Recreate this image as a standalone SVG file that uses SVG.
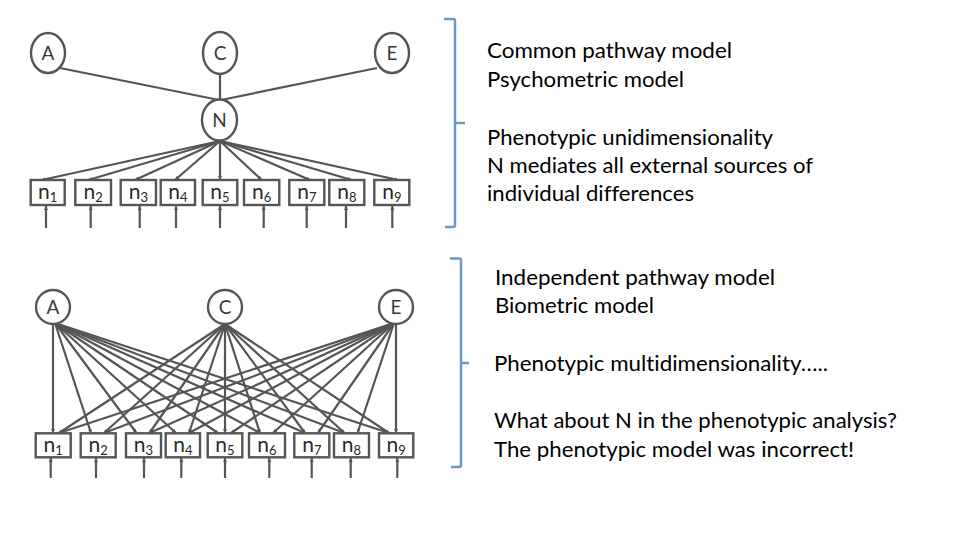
<svg xmlns="http://www.w3.org/2000/svg" width="960" height="540" viewBox="0 0 960 540">
<defs>
<marker id="ah" markerUnits="userSpaceOnUse" markerWidth="5" markerHeight="5" refX="4" refY="2" orient="auto">
<path d="M0,0 L4,2 L0,4 z" fill="#555"/>
</marker>
<style>
.nd{fill:#fff;stroke:#555;stroke-width:2.4}
.bx{fill:#fff;stroke:#555;stroke-width:2.4}
.ln{stroke:#555;stroke-width:2.2;fill:none}
.ar{stroke:#555;stroke-width:2.2;fill:none;marker-end:url(#ah)}
.lb{font-family:Lato,"Open Sans","Liberation Sans",sans-serif;font-size:19px;fill:#3a3a3a;text-anchor:middle}
.nl{font-family:Lato,"Open Sans","Liberation Sans",sans-serif;font-size:21px;fill:#2a2a2a;text-anchor:middle}
.sb{font-size:13px}
.tx{font-family:Lato,"Open Sans","Liberation Sans",sans-serif;font-size:22px;fill:#000;font-variant-ligatures:none}
.br{stroke:#6a98c8;stroke-width:2.5;fill:none}
</style>
</defs>
<rect width="960" height="540" fill="#fff"/>

<g id="connectors">
<!-- top model -->
<line class="ln" x1="60" y1="68" x2="219" y2="100"/>
<line class="ln" x1="377" y1="68" x2="221" y2="100"/>
<line class="ln" x1="220" y1="74" x2="220" y2="100"/>
<line class="ar" x1="220" y1="141" x2="41.7" y2="180"/>
<line class="ar" x1="220" y1="141" x2="88.3" y2="180"/>
<line class="ar" x1="220" y1="141" x2="135" y2="180"/>
<line class="ar" x1="220" y1="141" x2="175" y2="180"/>
<line class="ar" x1="220" y1="141" x2="220" y2="180"/>
<line class="ar" x1="220" y1="141" x2="261.7" y2="180"/>
<line class="ar" x1="220" y1="141" x2="310" y2="180"/>
<line class="ar" x1="220" y1="141" x2="351.7" y2="180"/>
<line class="ar" x1="220" y1="141" x2="398.3" y2="180"/>
<line class="ar" x1="46" y1="228" x2="46" y2="206"/>
<line class="ar" x1="90.7" y1="228" x2="90.7" y2="206"/>
<line class="ar" x1="139.7" y1="228" x2="139.7" y2="206"/>
<line class="ar" x1="176" y1="228" x2="176" y2="206"/>
<line class="ar" x1="220" y1="228" x2="220" y2="206"/>
<line class="ar" x1="263.7" y1="228" x2="263.7" y2="206"/>
<line class="ar" x1="306.7" y1="228" x2="306.7" y2="206"/>
<line class="ar" x1="346" y1="228" x2="346" y2="206"/>
<line class="ar" x1="392.3" y1="228" x2="392.3" y2="206"/>
<!-- bottom model: from A -->
<line class="ar" x1="53" y1="324" x2="53" y2="433"/>
<line class="ar" x1="55" y1="323" x2="91" y2="433"/>
<line class="ar" x1="55" y1="323" x2="136.5" y2="433"/>
<line class="ar" x1="55" y1="323" x2="176" y2="433"/>
<line class="ar" x1="55" y1="323" x2="218" y2="433"/>
<line class="ar" x1="55" y1="323" x2="260" y2="433"/>
<line class="ar" x1="55" y1="323" x2="305" y2="433"/>
<line class="ar" x1="55" y1="323" x2="344.5" y2="433"/>
<line class="ar" x1="55" y1="323" x2="389" y2="433"/>
<!-- from C -->
<line class="ar" x1="225" y1="324" x2="59" y2="433"/>
<line class="ar" x1="225" y1="324" x2="104" y2="433"/>
<line class="ar" x1="225" y1="324" x2="149.5" y2="433"/>
<line class="ar" x1="225" y1="324" x2="189" y2="433"/>
<line class="ar" x1="225" y1="324" x2="225" y2="433"/>
<line class="ar" x1="225" y1="324" x2="260" y2="433"/>
<line class="ar" x1="225" y1="324" x2="305" y2="433"/>
<line class="ar" x1="225" y1="324" x2="344.5" y2="433"/>
<line class="ar" x1="225" y1="324" x2="389" y2="433"/>
<!-- from E -->
<line class="ar" x1="394" y1="323" x2="59" y2="433"/>
<line class="ar" x1="394" y1="323" x2="104" y2="433"/>
<line class="ar" x1="394" y1="323" x2="149.5" y2="433"/>
<line class="ar" x1="394" y1="323" x2="189" y2="433"/>
<line class="ar" x1="394" y1="323" x2="231" y2="433"/>
<line class="ar" x1="394" y1="323" x2="273" y2="433"/>
<line class="ar" x1="394" y1="323" x2="318" y2="433"/>
<line class="ar" x1="394" y1="323" x2="357.5" y2="433"/>
<line class="ar" x1="396" y1="324" x2="396" y2="433"/>
<!-- error arrows -->
<line class="ar" x1="50.7" y1="478" x2="50.7" y2="458"/>
<line class="ar" x1="96" y1="478" x2="96" y2="458"/>
<line class="ar" x1="144" y1="478" x2="144" y2="458"/>
<line class="ar" x1="181.3" y1="478" x2="181.3" y2="458"/>
<line class="ar" x1="225" y1="478" x2="225" y2="458"/>
<line class="ar" x1="269.3" y1="478" x2="269.3" y2="458"/>
<line class="ar" x1="311.7" y1="478" x2="311.7" y2="458"/>
<line class="ar" x1="350.7" y1="478" x2="350.7" y2="458"/>
<line class="ar" x1="397.3" y1="478" x2="397.3" y2="458"/>
</g>

<!-- top model nodes -->
<g id="topA"><ellipse class="nd" cx="48" cy="53" rx="17" ry="20"/><text class="lb" x="48" y="60">A</text></g>
<g id="topC"><ellipse class="nd" cx="220" cy="53" rx="17" ry="21"/><text class="lb" x="220" y="60">C</text></g>
<g id="topE"><ellipse class="nd" cx="392" cy="53" rx="17" ry="20"/><text class="lb" x="392" y="60">E</text></g>
<g id="topN"><ellipse class="nd" cx="219.5" cy="120" rx="17.5" ry="20.5"/><text class="lb" x="219.5" y="127" fill="#222">N</text></g>
<g id="top_n1"><rect class="bx" x="30.7" y="180" width="34" height="25"/><text class="nl" x="47.7" y="199">n<tspan class="sb" dy="3">1</tspan></text></g>
<g id="top_n2"><rect class="bx" x="75.3" y="180" width="35.7" height="25"/><text class="nl" x="93.2" y="199">n<tspan class="sb" dy="3">2</tspan></text></g>
<g id="top_n3"><rect class="bx" x="120.7" y="180" width="35.3" height="25"/><text class="nl" x="138.4" y="199">n<tspan class="sb" dy="3">3</tspan></text></g>
<g id="top_n4"><rect class="bx" x="160.7" y="180" width="34.3" height="25"/><text class="nl" x="177.9" y="199">n<tspan class="sb" dy="3">4</tspan></text></g>
<g id="top_n5"><rect class="bx" x="202.7" y="180" width="34.6" height="25"/><text class="nl" x="220" y="199">n<tspan class="sb" dy="3">5</tspan></text></g>
<g id="top_n6"><rect class="bx" x="244" y="180" width="35.3" height="25"/><text class="nl" x="261.7" y="199">n<tspan class="sb" dy="3">6</tspan></text></g>
<g id="top_n7"><rect class="bx" x="289.3" y="180" width="35" height="25"/><text class="nl" x="306.8" y="199">n<tspan class="sb" dy="3">7</tspan></text></g>
<g id="top_n8"><rect class="bx" x="329.3" y="180" width="35" height="25"/><text class="nl" x="346.8" y="199">n<tspan class="sb" dy="3">8</tspan></text></g>
<g id="top_n9"><rect class="bx" x="374.3" y="180" width="35" height="25"/><text class="nl" x="391.8" y="199">n<tspan class="sb" dy="3">9</tspan></text></g>

<!-- bottom model nodes -->
<g id="botA"><ellipse class="nd" cx="53" cy="307" rx="17" ry="17"/><text class="lb" x="53" y="314">A</text></g>
<g id="botC"><ellipse class="nd" cx="225" cy="307" rx="17" ry="17"/><text class="lb" x="225" y="314">C</text></g>
<g id="botE"><ellipse class="nd" cx="396" cy="307" rx="17" ry="17"/><text class="lb" x="396" y="314">E</text></g>
<g id="bot_n1"><rect class="bx" x="35.7" y="433.3" width="35" height="24"/><text class="nl" x="53.2" y="451.5">n<tspan class="sb" dy="3">1</tspan></text></g>
<g id="bot_n2"><rect class="bx" x="80.7" y="433.3" width="35" height="24"/><text class="nl" x="98.2" y="451.5">n<tspan class="sb" dy="3">2</tspan></text></g>
<g id="bot_n3"><rect class="bx" x="126" y="433.3" width="35" height="24"/><text class="nl" x="143.5" y="451.5">n<tspan class="sb" dy="3">3</tspan></text></g>
<g id="bot_n4"><rect class="bx" x="165.7" y="433.3" width="34.3" height="24"/><text class="nl" x="182.8" y="451.5">n<tspan class="sb" dy="3">4</tspan></text></g>
<g id="bot_n5"><rect class="bx" x="207.7" y="433.3" width="34.6" height="24"/><text class="nl" x="225" y="451.5">n<tspan class="sb" dy="3">5</tspan></text></g>
<g id="bot_n6"><rect class="bx" x="249" y="433.3" width="36" height="24"/><text class="nl" x="267" y="451.5">n<tspan class="sb" dy="3">6</tspan></text></g>
<g id="bot_n7"><rect class="bx" x="294.3" y="433.3" width="35" height="24"/><text class="nl" x="311.8" y="451.5">n<tspan class="sb" dy="3">7</tspan></text></g>
<g id="bot_n8"><rect class="bx" x="334" y="433.3" width="35" height="24"/><text class="nl" x="351.5" y="451.5">n<tspan class="sb" dy="3">8</tspan></text></g>
<g id="bot_n9"><rect class="bx" x="379" y="433.3" width="34.3" height="24"/><text class="nl" x="396.2" y="451.5">n<tspan class="sb" dy="3">9</tspan></text></g>

<!-- brackets -->
<g id="bracket1">
<path class="br" d="M444,19 H453 Q455,19 455,21 V225 Q455,227 453,227 H445"/>
<path class="br" d="M455,123 H465"/>
</g>
<g id="bracket2">
<path class="br" d="M450,258.5 H459 Q461,258.5 461,260.5 V465 Q461,467 459,467 H451"/>
<path class="br" d="M461,363 H469"/>
</g>

<g id="text1">
<text class="tx" x="487" y="58" textLength="245" lengthAdjust="spacingAndGlyphs">Common pathway model</text>
<text class="tx" x="487" y="87" textLength="197" lengthAdjust="spacingAndGlyphs">Psychometric model</text>
<text class="tx" x="487" y="145" textLength="286" lengthAdjust="spacingAndGlyphs">Phenotypic unidimensionality</text>
<text class="tx" x="487" y="173" textLength="326" lengthAdjust="spacingAndGlyphs">N mediates all external sources of</text>
<text class="tx" x="487" y="201" textLength="207" lengthAdjust="spacingAndGlyphs">individual differences</text>
</g>
<g id="text2">
<text class="tx" x="495" y="285" textLength="280" lengthAdjust="spacingAndGlyphs">Independent pathway model</text>
<text class="tx" x="495" y="313" textLength="159" lengthAdjust="spacingAndGlyphs">Biometric model</text>
<text class="tx" x="494" y="371" textLength="334" lengthAdjust="spacingAndGlyphs">Phenotypic multidimensionality…..</text>
<text class="tx" x="494" y="428" textLength="403" lengthAdjust="spacingAndGlyphs">What about N in the phenotypic analysis?</text>
<text class="tx" x="494" y="457" textLength="360" lengthAdjust="spacingAndGlyphs">The phenotypic model was incorrect!</text>
</g>
</svg>
